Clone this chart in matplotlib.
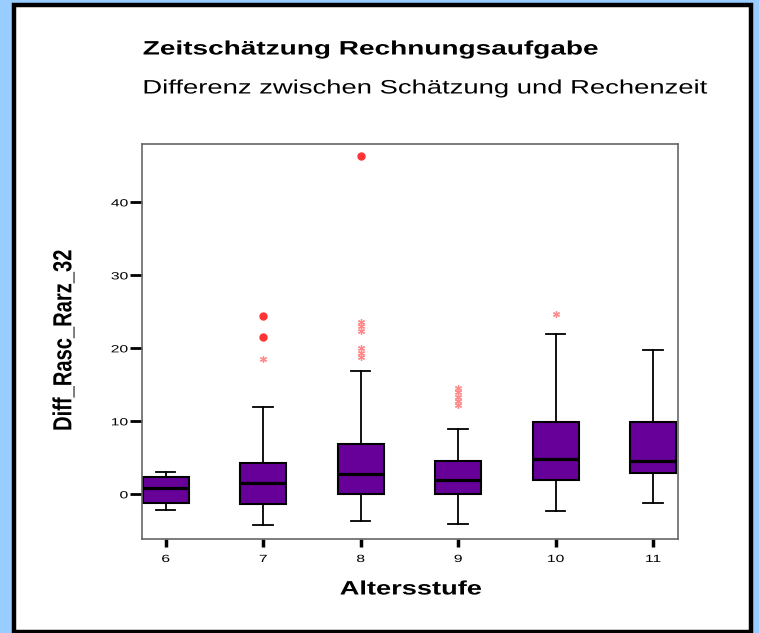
import matplotlib
matplotlib.use('Agg')
import matplotlib.pyplot as plt
from matplotlib.patheffects import AbstractPathEffect
from matplotlib.transforms import Affine2D
from matplotlib.patches import Rectangle

# ---------------- data ----------------
groups = [6, 7, 8, 9, 10, 11]
group_labels = ['6', '7', '8', '9', '10', '11']
whislo = [-2.1, -4.2, -3.6, -4.0, -2.3, -1.2]
q1 = [-1.2, -1.3, 0.0, 0.0, 1.9, 2.9]
med = [0.9, 1.6, 2.8, 1.9, 4.9, 4.6]
q3 = [2.4, 4.3, 6.9, 4.5, 9.9, 9.9]
whishi = [3.0, 12.0, 16.9, 8.9, 21.9, 19.8]
outliers = [[], [24.5, 21.5], [46.4], [], [], []]
extremes = [[], [18.6], [23.6, 23.0, 22.4, 20.0, 19.4, 18.8],
            [14.6, 14.0, 13.4, 12.8, 12.2], [24.7], []]
yticks = [0, 10, 20, 30, 40]

title = 'Zeitschätzung Rechnungsaufgabe'
subtitle = 'Differenz zwischen Schätzung und Rechenzeit'
xlabel = 'Altersstufe'
ylabel = 'Diff_Rasc_Rarz_32'


class StretchX(AbstractPathEffect):
    """Stretch drawn text horizontally (display x) around an anchor."""
    def __init__(self, sx, anchor='left'):
        super().__init__()
        self.sx = sx
        self.anchor = anchor

    def draw_path(self, renderer, gc, tpath, affine, rgbFace=None):
        bb = tpath.get_extents(affine)
        if self.anchor == 'left':
            x0 = bb.x0
        elif self.anchor == 'right':
            x0 = bb.x1
        else:
            x0 = 0.5 * (bb.x0 + bb.x1)
        aff = affine + Affine2D().translate(-x0, 0).scale(self.sx, 1).translate(x0, 0)
        renderer.draw_path(gc, tpath, aff, rgbFace)


W, H = 759, 633
plt.rcParams['font.family'] = ['Liberation Sans', 'DejaVu Sans']
fig = plt.figure(figsize=(W / 100, H / 100), dpi=100, facecolor='#99ccff')

def fx(px):
    return px / W

def fy(py):
    return 1 - py / H

# white panel with black border
fig.patches.append(Rectangle((fx(14.5), fy(632)), fx(751 - 14.5), (632 - 5.3) / H,
                             transform=fig.transFigure, facecolor='white',
                             edgecolor='black', linewidth=3.2, zorder=-5))

ax = fig.add_axes([fx(142), fy(539), fx(678 - 142), (539 - 144) / H])
ax.set_zorder(2)
ax.patch.set_facecolor('white')
stats = []
for i in range(len(groups)):
    stats.append(dict(whislo=whislo[i], q1=q1[i], med=med[i], q3=q3[i],
                      whishi=whishi[i], fliers=outliers[i]))
ax.bxp(stats, positions=groups, widths=0.47, capwidths=0.2, patch_artist=True,
       boxprops=dict(facecolor='#660099', edgecolor='black', linewidth=1.5),
       medianprops=dict(color='black', linewidth=2.3),
       whiskerprops=dict(color='black', linewidth=1.3),
       capprops=dict(color='black', linewidth=1.3),
       flierprops=dict(marker='o', markerfacecolor='#ff3333',
                       markeredgecolor='#ff3333', markersize=5))
for g, vals in zip(groups, extremes):
    if vals:
        ax.plot([g] * len(vals), vals, linestyle='none', marker=(6, 2, 0),
                color='#ff8888', markersize=5, markeredgewidth=0.9)

ax.set_xlim(5.757, 11.254)
ax.set_ylim(-6.12, 48.0)
ax.set_xticks(groups, group_labels)
ax.set_yticks(yticks, [str(v) for v in yticks])
ax.tick_params(axis='y', length=8.6, width=2.0, color='black', labelsize=7.5, pad=1.5)
ax.tick_params(axis='x', length=5.8, width=2.5, color='black', labelsize=7.5, pad=5)
for s in ax.spines.values():
    s.set_color('#666666')
    s.set_linewidth(1.2)
for lbl in ax.get_xticklabels():
    lbl.set_path_effects([StretchX(1.5, 'center')])
for lbl in ax.get_yticklabels():
    lbl.set_path_effects([StretchX(1.5, 'right')])

fig.text(fx(143), fy(50), title, fontsize=14, fontweight='bold', ha='left', va='center',
         path_effects=[StretchX(1.44, 'left')])
fig.text(fx(143), fy(89), subtitle, fontsize=14, ha='left', va='center',
         path_effects=[StretchX(1.41, 'left')])
fig.text(fx(411), fy(590), xlabel, fontsize=14, fontweight='bold', ha='center', va='center',
         path_effects=[StretchX(1.4, 'center')])
fig.text(fx(64), fy(340), ylabel, fontsize=14.5, fontweight='bold', rotation=90,
         ha='center', va='center', path_effects=[StretchX(1.3, 'center')])

fig.savefig('out.png', dpi=100, facecolor=fig.get_facecolor())
